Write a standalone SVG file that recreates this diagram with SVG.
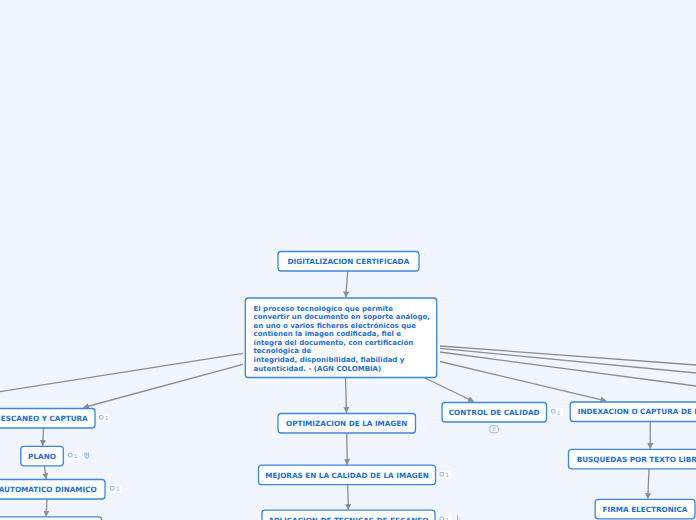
<svg xmlns="http://www.w3.org/2000/svg" width="696" height="520" viewBox="0 0 696 520">
<style>
.bg{fill:#f1f5fe}
.box{fill:#ffffff;stroke:#3a87dc;stroke-width:1.3}
.lbl{font-family:"DejaVu Sans",Verdana,sans-serif;font-weight:bold;font-size:7.25px;fill:#1f6fd0}
.txt{font-family:"DejaVu Sans",Verdana,sans-serif;font-weight:bold;font-size:7px;fill:#1f6fd0}
.ctr{text-anchor:middle}
.con{stroke:#8a8d95;stroke-width:1.3;fill:none}
.ic{fill:none;stroke:#6ea4e6;stroke-width:0.8}
.ict{font-family:"DejaVu Sans",Verdana,sans-serif;font-size:5px;fill:#6ea4e6}
</style>
<defs>
<marker id="ar" viewBox="0 0 10 10" refX="9" refY="5" markerWidth="6" markerHeight="6" orient="auto" markerUnits="userSpaceOnUse">
<path d="M0,0 L10,5 L0,10 z" fill="#8a8d95"/>
</marker>
</defs>
<rect class="bg" x="0" y="0" width="696" height="520"/>
<g id="connectors">
<path class="con" d="M347.7,271 L345.8,297" marker-end="url(#ar)"/>
<path class="con" d="M243,353.3 L0,391.7"/>
<path class="con" d="M243,364.3 L83.5,407.5" marker-end="url(#ar)"/>
<path class="con" d="M345.5,377.7 L346.5,412.5" marker-end="url(#ar)"/>
<path class="con" d="M425,378 L473.5,401.5" marker-end="url(#ar)"/>
<path class="con" d="M440,361.5 L606,400.8" marker-end="url(#ar)"/>
<path class="con" d="M440,346 L696,365"/>
<path class="con" d="M440,348.3 L696,373"/>
<path class="con" d="M440,352 L696,386"/>
<path class="con" d="M43.5,428.3 L42.7,445.5" marker-end="url(#ar)"/>
<path class="con" d="M44.5,466 L46,478.8" marker-end="url(#ar)"/>
<path class="con" d="M47,499.3 L46.2,516.2" marker-end="url(#ar)"/>
<path class="con" d="M346.8,433.3 L347.2,464.5" marker-end="url(#ar)"/>
<path class="con" d="M347.8,485 L348.3,509.5" marker-end="url(#ar)"/>
<path class="con" d="M650.3,421.7 L650.2,448.5" marker-end="url(#ar)"/>
<path class="con" d="M649,469 L647.8,498.5" marker-end="url(#ar)"/>
</g>
<g id="n-digitalizacion">
<rect class="box" x="278" y="251.5" width="141" height="19.5" rx="3"/>
<text class="lbl ctr" x="348.4" y="263.6">DIGITALIZACION CERTIFICADA</text>
</g>
<g id="n-definicion">
<rect class="box" x="245.3" y="298" width="191.4" height="79.5" rx="3"/>
<text class="txt" x="253.5" y="310.7">El proceso tecnológico que permite</text>
<text class="txt" x="253.5" y="319.2">convertir un documento en soporte análogo,</text>
<text class="txt" x="253.5" y="327.9">en uno o varios ficheros electrónicos que</text>
<text class="txt" x="253.5" y="336.4">contienen la imagen codificada, fiel e</text>
<text class="txt" x="253.5" y="345">íntegra del documento, con certificación</text>
<text class="txt" x="253.5" y="353.4">tecnológica de</text>
<text class="txt" x="253.5" y="362.1">integridad, disponibilidad, fiabilidad y</text>
<text class="txt" x="253.5" y="370.6">autenticidad. - (AGN COLOMBIA)</text>
</g>
<g id="n-escaneo">
<rect class="box" x="-6.5" y="408.5" width="101.5" height="19.5" rx="3"/>
<text class="lbl ctr" x="44.3" y="421.3">ESCANEO Y CAPTURA</text>
<rect x="98" y="414" width="13" height="8" fill="#ffffff" opacity="0.7"/>
<rect class="ic" x="99.5" y="415.5" width="3.5" height="3.5" rx="0.6"/>
<text class="ict" x="105" y="420">1</text>
</g>
<g id="n-plano">
<rect class="box" x="20.8" y="446.3" width="42.5" height="19.5" rx="3"/>
<text class="lbl ctr" x="42" y="458.6">PLANO</text>
<rect x="67" y="452" width="13" height="8" fill="#ffffff" opacity="0.7"/>
<rect class="ic" x="68.5" y="453.5" width="3.5" height="3.5" rx="0.6"/>
<text class="ict" x="74" y="458">1</text>
<path class="ic" d="M85,452.5 v4 a1.8,1.8 0 0 0 3.6,0 v-4 M86.8,452.5 v4" stroke-width="0.9"/>
</g>
<g id="n-automatico">
<rect class="box" x="-9.5" y="479.5" width="114.5" height="19.5" rx="3"/>
<text class="lbl ctr" x="47.7" y="491.8">AUTOMATICO DINAMICO</text>
<rect x="109" y="485" width="13" height="8" fill="#ffffff" opacity="0.7"/>
<rect class="ic" x="110.5" y="486.5" width="3.5" height="3.5" rx="0.6"/>
<text class="ict" x="116" y="491">1</text>
</g>
<g id="n-siguiente">
<rect class="box" x="-9.5" y="516.8" width="111.2" height="19.5" rx="3"/>
</g>
<g id="n-optimizacion">
<rect class="box" x="278" y="413.5" width="137.5" height="19.5" rx="3"/>
<text class="lbl ctr" x="346.7" y="425.8">OPTIMIZACION DE LA IMAGEN</text>
</g>
<g id="n-mejoras">
<rect class="box" x="258.5" y="465.2" width="177" height="19.5" rx="3"/>
<text class="lbl ctr" x="347" y="477.5">MEJORAS EN LA CALIDAD DE LA IMAGEN</text>
<rect x="438.5" y="471" width="13" height="8" fill="#ffffff" opacity="0.7"/>
<rect class="ic" x="440" y="472.5" width="3.5" height="3.5" rx="0.6"/>
<text class="ict" x="445.5" y="477">1</text>
</g>
<g id="n-aplicacion">
<rect class="box" x="262" y="510.2" width="173" height="19.5" rx="3"/>
<text class="lbl ctr" x="348.4" y="522.5">APLICACION DE TECNICAS DE ESCANEO</text>
<rect x="438.5" y="515.5" width="13" height="8" fill="#ffffff" opacity="0.7"/>
<rect class="ic" x="440" y="517" width="3.5" height="3.5" rx="0.6"/>
<text class="ict" x="445.5" y="521.5">1</text>
<path class="ic" d="M457.5,515.5 v6 M459.5,518 h0.8 M459.5,520 h0.8" stroke-width="0.9"/>
</g>
<g id="n-control">
<rect class="box" x="442" y="402.5" width="104.5" height="19.5" rx="3"/>
<text class="lbl ctr" x="494.2" y="414.8">CONTROL DE CALIDAD</text>
<rect x="550" y="408" width="13" height="8" fill="#ffffff" opacity="0.7"/>
<rect class="ic" x="551.5" y="409.5" width="3.5" height="3.5" rx="0.6"/>
<text class="ict" x="557" y="414.5">1</text>
<rect x="490" y="425.8" width="8.3" height="7" rx="2" fill="#ffffff" stroke="#6ea4e6" stroke-width="0.8"/>
<text class="ict" x="494.2" y="431.2" text-anchor="middle">6</text>
</g>
<g id="n-indexacion">
<rect class="box" x="570.2" y="402" width="140" height="19.5" rx="3"/>
<text class="lbl" x="577.7" y="414">INDEXACION O CAPTURA DE D</text>
</g>
<g id="n-busquedas">
<rect class="box" x="568.5" y="449.3" width="140" height="19.5" rx="3"/>
<text class="lbl" x="576.7" y="461.8">BUSQUEDAS POR TEXTO LIBRE</text>
</g>
<g id="n-firma">
<rect class="box" x="595.2" y="499.3" width="99.8" height="19.5" rx="3"/>
<text class="lbl ctr" x="645" y="511.7">FIRMA ELECTRONICA</text>
</g>
</svg>
